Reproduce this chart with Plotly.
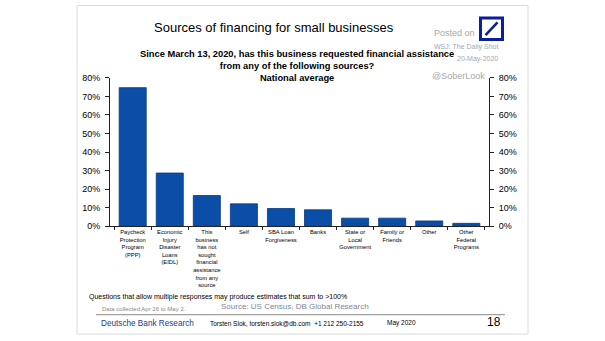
import plotly.graph_objects as go

categories = [
    "Paycheck<br>Protection<br>Program<br>(PPP)",
    "Economic<br>Injury<br>Disaster<br>Loans<br>(EIDL)",
    "This<br>business<br>has not<br>sought<br>financial<br>assistance<br>from any<br>source",
    "Self",
    "SBA Loan<br>Forgiveness",
    "Banks",
    "State or<br>Local<br>Government",
    "Family or<br>Friends",
    "Other",
    "Other<br>Federal<br>Programs",
]
values = [74.7, 28.7, 16.6, 12.1, 9.6, 8.9, 4.4, 4.4, 2.9, 1.6]
y_ticks = [0, 10, 20, 30, 40, 50, 60, 70, 80]
y_tick_labels = [f"{v}%" for v in y_ticks]

W, H = 605, 341
FONT = "Arial, Liberation Sans, sans-serif"


def X(px):
    return px / W


def Y(py):
    return 1 - py / H


fig = go.Figure()
fig.add_trace(go.Bar(
    x=categories, y=values,
    marker=dict(color="#0b4ea8", line=dict(color="#083a80", width=0.8)),
    hoverinfo="skip",
))
fig.add_trace(go.Scatter(
    x=categories, y=values, yaxis="y2", mode="markers",
    marker=dict(opacity=0), hoverinfo="skip", showlegend=False,
))

axis_common = dict(
    range=[0, 80], tickmode="array", tickvals=y_ticks, ticktext=y_tick_labels,
    showgrid=False, zeroline=False, showline=True, linecolor="#222",
    linewidth=1, ticks="outside", ticklen=4, tickcolor="#222",
    ticklabelstandoff=3,
    tickfont=dict(family=FONT, size=9, color="#000"),
    fixedrange=True,
)

fig.update_layout(
    width=W, height=H,
    margin=dict(l=0, r=0, t=0, b=0),
    paper_bgcolor="white", plot_bgcolor="white",
    showlegend=False,
    bargap=0.27,
    xaxis=dict(
        domain=[X(110), X(489)],
        showline=True, linecolor="#222", linewidth=1,
        ticks="outside", tickson="boundaries", ticklen=3, tickcolor="#222",
        tickfont=dict(family=FONT, size=5.8, color="#000"),
        tickangle=0, showgrid=False,
    ),
    yaxis=dict(domain=[Y(228), Y(75)], side="left", **axis_common),
    yaxis2=dict(overlaying="y", side="right", **axis_common),
)

ann = []


def text(px, py, s, size, color="#000", anchor="center", bold=False):
    if bold:
        s = "<b>" + s + "</b>"
    ann.append(dict(
        x=X(px), y=Y(py), xref="paper", yref="paper", text=s,
        showarrow=False, xanchor=anchor, yanchor="middle",
        font=dict(family=FONT, size=size, color=color),
    ))


text(274, 23, "Sources of financing for small businesses", 13)
text(297, 63,
     "Since March 13, 2020, has this business requested financial assistance"
     "<br>from any of the following sources?<br>National average", 9.3, bold=True)

text(432, 29, "Posted on", 9, "#a8a8a8", "left")
text(432, 43, "WSJ: The Daily Shot", 7, "#a8a8a8", "left")
text(500, 56, "20-May-2020", 7, "#a8a8a8", "right")
text(430, 73, "@SoberLook", 9, "#a8a8a8", "left")

text(87, 301, "Questions that allow multiple responses may produce estimates that sum to >100%", 7, "#000", "left")
text(100, 313, "Data collected Apr 26 to May 2.", 6, "#8a8a8a", "left")
text(219, 311, "Source: US Census, DB Global Research", 8, "#7a879c", "left")
text(99, 328, "Deutsche Bank Research", 8.2, "#1c3a8c", "left")
text(208, 328, "Torsten Slok, torsten.slok@db.com  +1 212 250-2155", 6.5, "#000", "left")
text(385, 328, "May 2020", 6.5, "#000", "left")
text(503, 327, "18", 12, "#000", "right")

shapes = [
    # slide border
    dict(type="rect", xref="paper", yref="paper", x0=X(77), x1=X(528), y0=Y(339), y1=Y(0.5),
         line=dict(color="#dcdcdc", width=1), fillcolor="rgba(0,0,0,0)", layer="below"),
    # footer rule
    dict(type="line", xref="paper", yref="paper", x0=X(96), x1=X(505), y0=Y(319), y1=Y(319),
         line=dict(color="#a0a0a0", width=1.2)),
    # logo
    dict(type="rect", xref="paper", yref="paper", x0=X(480.5), x1=X(502.5), y0=Y(35.5), y1=Y(13.5),
         line=dict(color="#0a1f9e", width=3), fillcolor="white"),
    dict(type="line", xref="paper", yref="paper", x0=X(485.5), x1=X(497.5), y0=Y(31), y1=Y(18),
         line=dict(color="#0a1f9e", width=2.6)),
]

fig.update_layout(annotations=ann, shapes=shapes)
fig.write_html("out.html")
